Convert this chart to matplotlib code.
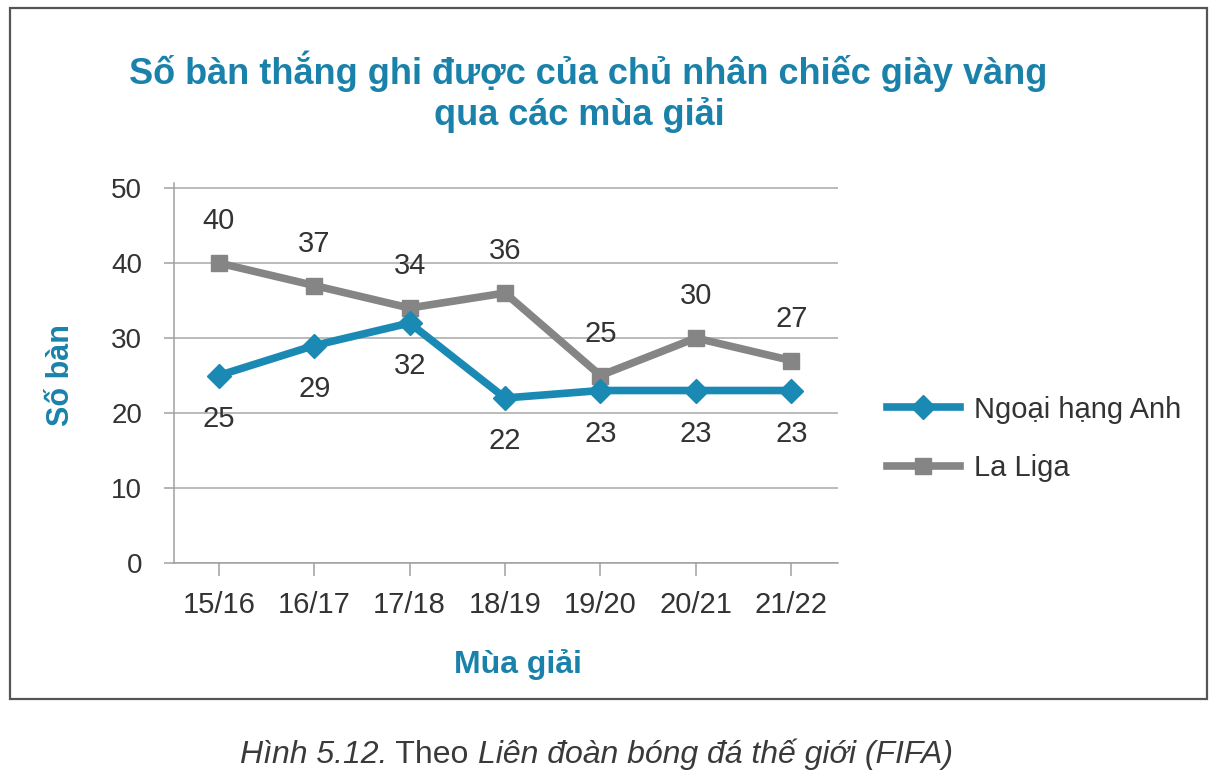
import matplotlib
matplotlib.use("Agg")
import matplotlib.pyplot as plt
from matplotlib.patches import Rectangle

plt.rcParams['font.family'] = ['Liberation Sans', 'DejaVu Sans']

# Du lieu doc tu hinh
mua_giai = ["15/16", "16/17", "17/18", "18/19", "19/20", "20/21", "21/22"]
ngoai_hang_anh = [25, 29, 32, 22, 23, 23, 23]
la_liga = [40, 37, 34, 36, 25, 30, 27]
y_ticks = [0, 10, 20, 30, 40, 50]

mau_xanh = '#1a8ab5'
mau_tieu_de = '#1a82aa'
mau_xam = '#858585'
mau_chu = '#333333'

W, H = 1216, 773
fig = plt.figure(figsize=(W / 100, H / 100), dpi=100)
fig.patch.set_facecolor('white')

# khung vien quanh bieu do
fig.patches.append(Rectangle((10 / W, 1 - 699 / H), (1207 - 10) / W, (699 - 8) / H,
                             transform=fig.transFigure, fill=False,
                             edgecolor='#555555', linewidth=1.6))

ax = fig.add_axes([174 / W, 1 - 563 / H, (838 - 174) / W, (563 - 183) / H])
x = list(range(len(mua_giai)))

l_liga, = ax.plot(x, la_liga, color=mau_xam, linewidth=5.5, marker='s',
                  markersize=12, label='La Liga', zorder=3)
l_anh, = ax.plot(x, ngoai_hang_anh, color=mau_xanh, linewidth=5.5, marker='D',
                 markersize=12, label='Ngoại hạng Anh', zorder=4)

for xi, v in zip(x, la_liga):
    ax.annotate(str(v), (xi, v), xytext=(0, 30), textcoords='offset points',
                ha='center', va='center', fontsize=21, color=mau_chu)
for xi, v in zip(x, ngoai_hang_anh):
    ax.annotate(str(v), (xi, v), xytext=(0, -31), textcoords='offset points',
                ha='center', va='center', fontsize=21, color=mau_chu)

ax.set_xlim(-0.47, 6.49)
ax.set_ylim(0, 50.67)
ax.set_xticks(x)
ax.set_xticklabels(mua_giai)
ax.set_yticks(y_ticks)
ax.yaxis.grid(True, color='#a8a8a8', linewidth=1.1)
ax.set_axisbelow(True)

for s in ['top', 'right']:
    ax.spines[s].set_visible(False)
ax.spines['left'].set_color('#a0a0a0')
ax.spines['bottom'].set_color('#a0a0a0')
ax.spines['left'].set_linewidth(1.1)
ax.spines['bottom'].set_linewidth(1.1)

ax.tick_params(axis='x', direction='out', length=9, width=1.1, color='#a0a0a0',
               pad=11, labelsize=21, labelcolor=mau_chu)
ax.tick_params(axis='y', direction='out', length=7, width=1.1, color='#a0a0a0',
               pad=16, labelsize=20, labelcolor=mau_chu)
ax.set_facecolor('none')

# tieu de
fig.text(588 / W, 1 - 84 / H, "Số bàn thắng ghi được của chủ nhân chiếc giày vàng",
         ha='center', va='baseline', fontsize=26, fontweight='bold', color=mau_tieu_de)
fig.text(579 / W, 1 - 125 / H, "qua các mùa giải",
         ha='center', va='baseline', fontsize=26, fontweight='bold', color=mau_tieu_de)

fig.text(61 / W, 1 - 375 / H, "Số bàn", rotation=90, ha='center', va='center',
         fontsize=22, fontweight='bold', color=mau_tieu_de)
fig.text(518 / W, 1 - 665 / H, "Mùa giải", ha='center', va='center',
         fontsize=23, fontweight='bold', color=mau_tieu_de)

fig.legend([l_anh, l_liga], ['Ngoại hạng Anh', 'La Liga'], loc='center left',
           bbox_to_anchor=(887 / W, 1 - 439 / H), frameon=False, fontsize=21,
           handlelength=2.5, handletextpad=0.5, labelspacing=1.05,
           borderpad=0, borderaxespad=0, labelcolor=mau_chu)

# chu thich hinh, ghep tung phan chu nghieng / chu thuong
phan_chu = [("Hình 5.12.", 'italic'), (" Theo ", 'normal'),
            ("Liên đoàn bóng đá thế giới (FIFA)", 'italic')]
renderer = fig.canvas.get_renderer()
x_px = 240
for chu, kieu in phan_chu:
    t = fig.text(x_px / W, 1 - 763 / H, chu, ha='left', va='baseline',
                 fontsize=23, style=kieu, color='#3a3a3a')
    x_px += t.get_window_extent(renderer).width

fig.savefig("out.png", dpi=100)
